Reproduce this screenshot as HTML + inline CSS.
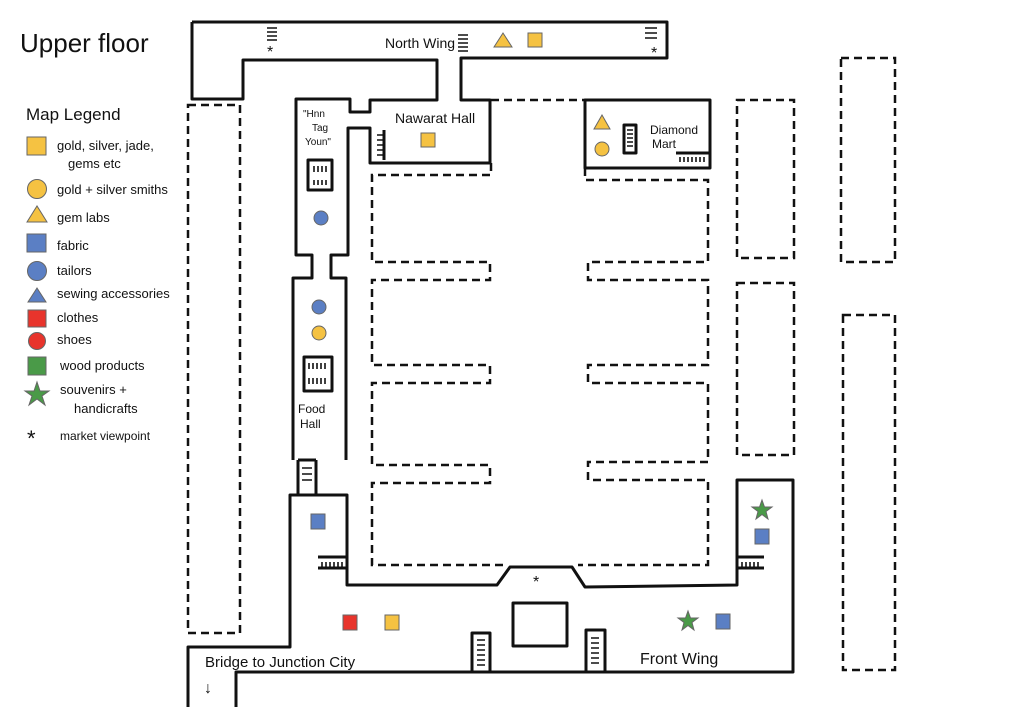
<!DOCTYPE html>
<html><head><meta charset="utf-8"><style>
html,body{margin:0;padding:0;background:#fff}
svg{display:block}
text{font-family:"Liberation Sans Narrow","Liberation Sans",sans-serif;fill:#111}
</style></head><body>
<svg width="1024" height="707" viewBox="0 0 1024 707" xmlns="http://www.w3.org/2000/svg">
<g fill="none" stroke="#111" stroke-width="3" stroke-linejoin="round">
<path d="M192,22 L667,22 L667,58 L461,58 L461,100 L490,100 L490,163 L370,163 L370,128 L348,128 L348,255 L331,255 L331,278 L346,278 L346,460"/>
<path d="M293,460 L293,278 L312,278 L312,255 L296,255 L296,99 L350,99 L350,112 L370,112 L370,100 L437,100 L437,60 L243,60 L243,99 L192,99 L192,22"/>
<path d="M298,460 L316,460 M298,495 L316,495"/>
<path d="M316,460 L316,495 L347,495 L347,585 L497,585 L510,567 L572,567 L585,587 L737,585 L737,480 L793,480 L793,672 L236,672 L236,707"/>
<path d="M298,460 L298,495 L290,495 L290,647 L188,647 L188,707"/>
<path d="M585,100 L710,100 L710,168 L585,168 Z"/>
<path d="M676,153 L710,153"/>
<path d="M513,603 L567,603 L567,646 L513,646 Z"/>
<path d="M472,672 L472,633 L490,633 L490,672"/>
<path d="M586,672 L586,630 L605,630 L605,672"/>
<rect x="308" y="160" width="24" height="30"/>
<rect x="304" y="357" width="28" height="34"/>
<rect x="624" y="125" width="12" height="28"/>
<path d="M384,130 L384,160"/>
<path d="M318,557 L346,557 M318,568 L346,568 M738,557 L764,557 M738,568 L764,568"/>
</g>
<g fill="none" stroke="#111" stroke-width="2.5" stroke-dasharray="8,5">
<rect x="188" y="105" width="52" height="528"/>
<rect x="737" y="100" width="57" height="158"/>
<rect x="737" y="283" width="57" height="172"/>
<rect x="841" y="58" width="54" height="204"/>
<rect x="843" y="315" width="52" height="355"/>
<path d="M491,100 L585,100"/>
<path d="M491,163 L491,175 L372,175 L372,262 L490,262 L490,280 L372,280 L372,365 L490,365 L490,383 L372,383 L372,465 L490,465 L490,483 L372,483 L372,565 L505,565"/>
<path d="M585,168 L585,180 L708,180 L708,262 L588,262 L588,280 L708,280 L708,365 L588,365 L588,383 L708,383 L708,462 L588,462 L588,480 L708,480 L708,565 L578,565"/>
</g>
<g stroke="#111" stroke-width="1.6">
<path d="M267,28h10M267,32h10M267,36h10M267,40h10"/>
<path d="M645,28h12M645,33h12M645,38h12"/>
<path d="M458,35h10M458,39h10M458,43h10M458,47h10M458,51h10"/>
<path d="M377,135h7M377,140h7M377,145h7M377,150h7M377,155h7"/>
<path d="M314,166v6M318,166v6M322,166v6M326,166v6M314,180v5M318,180v5M322,180v5M326,180v5"/>
<path d="M309,363v6M313,363v6M317,363v6M321,363v6M325,363v6M309,378v6M313,378v6M317,378v6M321,378v6M325,378v6"/>
<path d="M627,130h6M627,134h6M627,138h6M627,142h6M627,146h6"/>
<path d="M680,157v5M684,157v5M688,157v5M692,157v5M696,157v5M700,157v5M704,157v5"/>
<path d="M302,468h10M302,474h10M302,480h10"/>
<path d="M322,562v5M326,562v5M330,562v5M334,562v5M338,562v5M342,562v5"/>
<path d="M742,562v5M746,562v5M750,562v5M754,562v5M758,562v5"/>
<path d="M477,640h8M477,645h8M477,650h8M477,655h8M477,660h8M477,665h8"/>
<path d="M591,638h8M591,643h8M591,648h8M591,653h8M591,658h8M591,663h8"/>
</g>
<text x="20" y="52" font-size="26">Upper floor</text>
<text x="26" y="120" font-size="17">Map Legend</text>
<text x="57" y="150" font-size="13">gold, silver, jade,</text>
<text x="68" y="168" font-size="13">gems etc</text>
<text x="57" y="194" font-size="13">gold + silver smiths</text>
<text x="57" y="222" font-size="13">gem labs</text>
<text x="57" y="250" font-size="13">fabric</text>
<text x="57" y="275" font-size="13">tailors</text>
<text x="57" y="298" font-size="13">sewing accessories</text>
<text x="57" y="322" font-size="13">clothes</text>
<text x="57" y="344" font-size="13">shoes</text>
<text x="60" y="370" font-size="13">wood products</text>
<text x="60" y="394" font-size="13">souvenirs +</text>
<text x="74" y="413" font-size="13">handicrafts</text>
<text x="60" y="440" font-size="12">market viewpoint</text>
<text x="27" y="446" font-size="22">*</text>
<text x="385" y="48" font-size="14">North Wing</text>
<text x="395" y="123" font-size="14">Nawarat Hall</text>
<text x="303" y="117" font-size="10">"Hnn</text>
<text x="312" y="131" font-size="10">Tag</text>
<text x="305" y="145" font-size="10">Youn"</text>
<text x="650" y="134" font-size="12">Diamond</text>
<text x="652" y="148" font-size="12">Mart</text>
<text x="298" y="413" font-size="12">Food</text>
<text x="300" y="428" font-size="12">Hall</text>
<text x="205" y="667" font-size="15">Bridge to Junction City</text>
<text x="204" y="693" font-size="16">↓</text>
<text x="640" y="664" font-size="16">Front Wing</text>
<text x="267" y="57" font-size="16">*</text>
<text x="651" y="58" font-size="16">*</text>
<text x="533" y="587" font-size="16">*</text>
<g stroke="#666" stroke-width="1">
<rect x="27" y="137" width="19" height="18" fill="#f5c242"/>
<circle cx="37" cy="189" r="9.5" fill="#f5c242"/>
<polygon points="27,222 37,206 47,222" fill="#f5c242"/>
<rect x="27" y="234" width="19" height="18" fill="#5b7fc4"/>
<circle cx="37" cy="271" r="9.5" fill="#5b7fc4"/>
<polygon points="28,302 37,288 46,302" fill="#5b7fc4"/>
<rect x="28" y="310" width="18" height="17" fill="#e8342c"/>
<circle cx="37" cy="341" r="8.5" fill="#e8342c"/>
<rect x="28" y="357" width="18" height="18" fill="#4a9a48"/>
<polygon points="37,382 40,391 49,391 42,396 45,405 37,399 29,405 32,396 25,391 34,391" fill="#4a9a48"/>
<polygon points="494,47 503,33 512,47" fill="#f5c242"/>
<rect x="528" y="33" width="14" height="14" fill="#f5c242"/>
<rect x="421" y="133" width="14" height="14" fill="#f5c242"/>
<polygon points="594,129 602,115 610,129" fill="#f5c242"/>
<circle cx="602" cy="149" r="7" fill="#f5c242"/>
<circle cx="321" cy="218" r="7" fill="#5b7fc4"/>
<circle cx="319" cy="307" r="7" fill="#5b7fc4"/>
<circle cx="319" cy="333" r="7" fill="#f5c242"/>
<rect x="311" y="514" width="14" height="15" fill="#5b7fc4"/>
<rect x="343" y="615" width="14" height="15" fill="#e8342c"/>
<rect x="385" y="615" width="14" height="15" fill="#f5c242"/>
<rect x="716" y="614" width="14" height="15" fill="#5b7fc4"/>
<rect x="755" y="529" width="14" height="15" fill="#5b7fc4"/>
<polygon points="688,611 690.5,618 698,618 692,622.5 694,630 688,625.5 682,630 684,622.5 678,618 685.5,618" fill="#4a9a48"/>
<polygon points="762,500 764.5,507 772,507 766,511.5 768,519 762,514.5 756,519 758,511.5 752,507 759.5,507" fill="#4a9a48"/>
</g>
</svg>
</body></html>
